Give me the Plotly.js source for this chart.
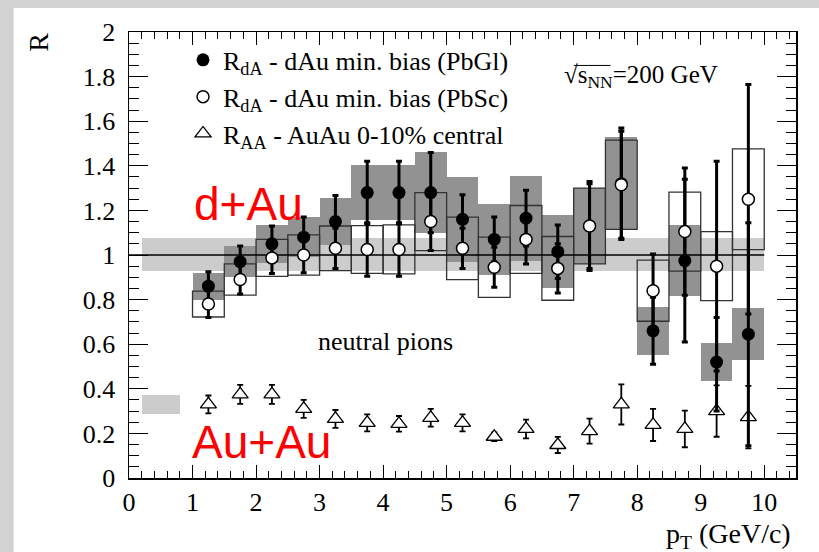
<!DOCTYPE html>
<html>
<head>
<meta charset="utf-8">
<script src="https://cdn.plot.ly/plotly-3.0.1.min.js"></script>
<style>html,body{margin:0;padding:0;background:#d2d2d2;}#chart{width:819px;height:552px;}</style>
</head>
<body>
<div id="chart"></div>
<script>
// ---- data ----
const pt = [1.25,1.75,2.25,2.75,3.25,3.75,4.25,4.75,5.25,5.75,6.25,6.75,7.25,7.75,8.25,8.75,9.25,9.75];

const rdaPbGl       = [0.86,0.97,1.05,1.08,1.15,1.28,1.28,1.28,1.16,1.07,1.165,1.015,1.13,1.32,0.66,0.975,0.52,0.645];
const rdaPbGlStatUp = [0.065,0.07,0.08,0.09,0.117,0.14,0.14,0.18,0.11,0.10,0.125,0.12,0.19,0.25,0.15,0.365,0.20,0.50];
const rdaPbGlStatDn = [0.065,0.07,0.08,0.09,0.117,0.14,0.14,0.18,0.11,0.10,0.125,0.12,0.19,0.25,0.15,0.365,0.22,0.50];
const rdaPbGlSys    = [0.06,0.07,0.085,0.09,0.107,0.125,0.125,0.18,0.19,0.16,0.19,0.165,0.17,0.21,0.107,0.16,0.086,0.117];

const rdaPbSc     = [0.78,0.89,0.987,1.0,1.03,1.025,1.025,1.15,1.03,0.945,1.07,0.94,1.13,1.315,0.84,1.105,0.95,1.25];
const rdaPbScStat = [0.06,0.065,0.07,0.08,0.09,0.12,0.12,0.13,0.09,0.09,0.11,0.11,0.20,0.24,0.165,0.285,0.47,0.515];
const rdaPbScSys  = [0.058,0.07,0.083,0.09,0.10,0.107,0.11,0.13,0.14,0.135,0.152,0.143,0.17,0.20,0.137,0.177,0.155,0.226];

const raaAuAu     = [0.33,0.375,0.375,0.31,0.265,0.247,0.243,0.27,0.247,0.185,0.22,0.148,0.21,0.33,0.238,0.22,0.30,0.273];
const raaAuAuStat = [0.04,0.043,0.043,0.04,0.04,0.038,0.035,0.04,0.038,0.02,0.042,0.036,0.056,0.09,0.072,0.082,0.115,0.14];

// normalisation uncertainty bands
const dAuNormX = [0.2, 10.0];   const dAuNormY = [0.93, 1.078];
const AuAuNormX = [0.2, 0.8];   const AuAuNormY = [0.287, 0.373];
const unityX = [0, 10];         const unityY = [1, 1];

const legendLabels = [
  'R<sub>dA</sub> - dAu min. bias (PbGl)',
  'R<sub>dA</sub> - dAu min. bias (PbSc)',
  'R<sub>AA</sub> - AuAu 0-10% central'
];

// ---- styles ----
const BIN_W = 0.5;
const SERIF = '"Liberation Serif", "Times New Roman", serif';
const SANS = '"Liberation Sans", Arial, sans-serif';
const DARK = '#929292', LIGHT = '#cccccc';

const widths = pt.map(() => BIN_W);
const traces = [
  { type:'bar', x:[(dAuNormX[0]+dAuNormX[1])/2], y:[dAuNormY[1]-dAuNormY[0]], base:[dAuNormY[0]],
    width:[dAuNormX[1]-dAuNormX[0]], marker:{color:LIGHT, line:{width:0}}, showlegend:false, hoverinfo:'skip' },
  { type:'bar', x:[(AuAuNormX[0]+AuAuNormX[1])/2], y:[AuAuNormY[1]-AuAuNormY[0]], base:[AuAuNormY[0]],
    width:[AuAuNormX[1]-AuAuNormX[0]], marker:{color:LIGHT, line:{width:0}}, showlegend:false, hoverinfo:'skip' },
  { type:'bar', x:pt, y:rdaPbGlSys.map(s=>2*s), base:rdaPbGl.map((v,i)=>v-rdaPbGlSys[i]), width:widths,
    marker:{color:DARK, line:{width:0}}, showlegend:false, hoverinfo:'skip' },
  { type:'bar', x:pt, y:rdaPbScSys.map(s=>2*s), base:rdaPbSc.map((v,i)=>v-rdaPbScSys[i]), width:widths,
    marker:{color:'rgba(0,0,0,0)', line:{width:1.3, color:'#333'}}, showlegend:false, hoverinfo:'skip' },
  { type:'scatter', mode:'lines', x:unityX, y:unityY, line:{color:'#000', width:1.3}, showlegend:false, hoverinfo:'skip' },
  { type:'scatter', mode:'markers', x:pt, y:raaAuAu, name:legendLabels[2], legendgroup:'c', legendrank:3,
    error_y:{type:'data', array:raaAuAuStat, color:'#000', thickness:1.8, width:3},
    marker:{symbol:'triangle-up', size:14, color:'#fff', line:{width:1.3, color:'#000'}} },
  { type:'scatter', mode:'markers', x:pt, y:rdaPbGl, name:legendLabels[0], legendgroup:'a', legendrank:1,
    error_y:{type:'data', symmetric:false, array:rdaPbGlStatUp, arrayminus:rdaPbGlStatDn, color:'#000', thickness:3, width:3},
    marker:{symbol:'circle', size:13, color:'#000'} },
  { type:'scatter', mode:'markers', x:pt, y:rdaPbSc, name:legendLabels[1], legendgroup:'b', legendrank:2,
    error_y:{type:'data', array:rdaPbScStat, color:'#000', thickness:3, width:3},
    marker:{symbol:'circle', size:12, color:'#fff', line:{color:'#000', width:1.5}} }
];

const axisCommon = {
  showline:true, linecolor:'#000', linewidth:1.5, mirror:'allticks', showgrid:false, zeroline:false,
  ticks:'inside', tickcolor:'#000', tickwidth:1,
  tickfont:{family:SERIF, size:26, color:'#000'}
};

const layout = {
  width:819, height:552,
  margin:{l:129, r:23, t:32, b:74, pad:0},
  paper_bgcolor:'#d2d2d2', plot_bgcolor:'#fff',
  barmode:'overlay', bargap:0,
  xaxis:Object.assign({}, axisCommon, {range:[0,10.5], tick0:0, dtick:1, ticklen:13,
    minor:{dtick:0.2, ticklen:7, ticks:'inside', tickcolor:'#000', tickwidth:1}, ticklabelstandoff:0}),
  yaxis:Object.assign({}, axisCommon, {range:[0,2], tick0:0, dtick:0.2, ticklen:19,
    minor:{dtick:0.05, ticklen:10, ticks:'inside', tickcolor:'#000', tickwidth:1}, ticklabelstandoff:7}),
  showlegend:true,
  legend:{x:0.081, y:0.99, xanchor:'left', yanchor:'top', bgcolor:'rgba(0,0,0,0)',
    font:{family:SERIF, size:26, color:'#000'}, tracegroupgap:3, traceorder:'normal'},
  shapes:[
    {type:'rect', xref:'paper', yref:'paper', x0:-0.173, x1:1.1, y0:-0.25, y1:1.054, fillcolor:'#fff', line:{width:0}, layer:'below'},
    {type:'line', xref:'paper', yref:'paper', x0:0.667, x1:0.722, y0:0.925, y1:0.925, line:{color:'#000', width:1}}
  ],
  annotations:[
    {xref:'paper', yref:'paper', x:-0.135, y:0.978, text:'R', textangle:-90, showarrow:false,
      font:{family:SERIF, size:28, color:'#000'}, xanchor:'center', yanchor:'middle'},
    {xref:'paper', yref:'paper', x:0.996, y:-0.128, text:'p<sub>T</sub> (GeV/c)', showarrow:false,
      font:{family:SERIF, size:28, color:'#000'}, xanchor:'right', yanchor:'middle'},
    {xref:'paper', yref:'paper', x:0.385, y:0.305, text:'neutral pions', showarrow:false,
      font:{family:SERIF, size:26, color:'#000'}, xanchor:'center', yanchor:'middle'},
    {xref:'paper', yref:'paper', x:0.649, y:0.9, text:'√s<sub>NN</sub>=200 GeV', showarrow:false,
      font:{family:SERIF, size:25, color:'#000'}, xanchor:'left', yanchor:'middle'},
    {xref:'paper', yref:'paper', x:0.094, y:0.615, text:'d+Au', showarrow:false,
      font:{family:SANS, size:46, color:'#ff0000'}, xanchor:'left', yanchor:'middle'},
    {xref:'paper', yref:'paper', x:0.092, y:0.08, text:'Au+Au', showarrow:false,
      font:{family:SANS, size:46, color:'#ff0000'}, xanchor:'left', yanchor:'middle'}
  ]
};

Plotly.newPlot('chart', traces, layout, {displayModeBar:false, staticPlot:true});
</script>
</body>
</html>
